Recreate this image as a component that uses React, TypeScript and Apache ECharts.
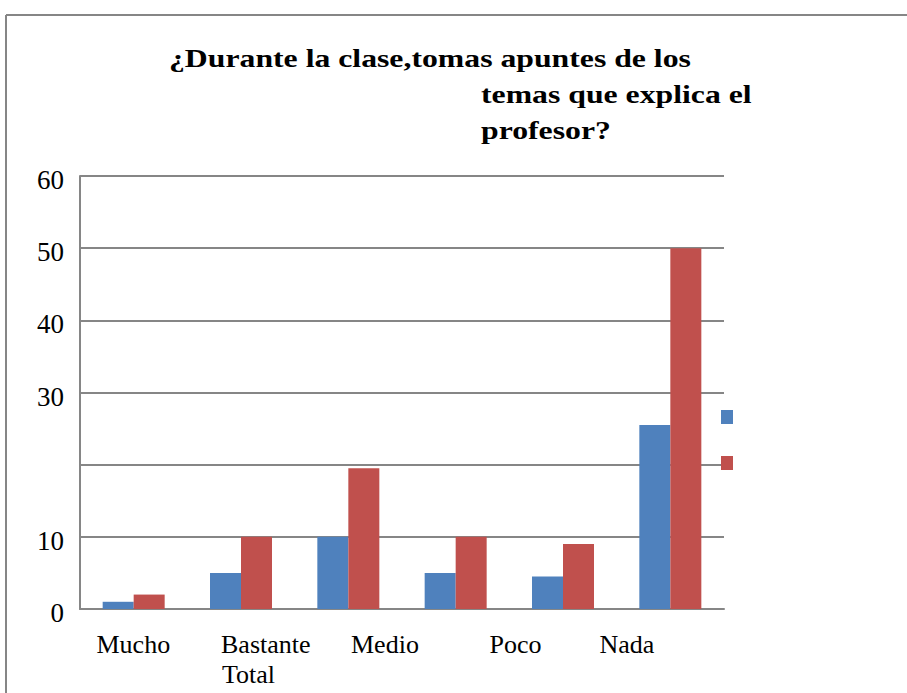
import React, { useEffect, useRef } from "react";
import * as echarts from "echarts";

const categories = ["Mucho", "Bastante", "Medio", "Poco", "Poco2", "Nada"];
const seriesNames = ["Serie 1", "Serie 2"];
const blueValues = [1, 5, 10, 5, 4.5, 25.5];
const redValues = [2, 10, 19.5, 10, 9, 50];
const yTickLabels = ["0", "10", "", "30", "40", "50", "60"];
const xLabelTexts = ["Mucho", "Bastante", "Total", "Medio", "Poco", "Nada"];
const titleLines = [
  "¿Durante la clase,tomas apuntes de los",
  "temas que explica el",
  "profesor?",
];

const SERIF = "Liberation Serif";
const GRAY = "#868686";

export default function App() {
  const ref = useRef<HTMLDivElement>(null);

  useEffect(() => {
    if (!ref.current) return;
    const chart = echarts.init(ref.current, undefined, { renderer: "svg" });

    const titlePos = [
      [169, 59],
      [481, 95],
      [481, 131],
    ];
    const xLabelPos = [
      [96.5, 644],
      [221, 644],
      [222, 674],
      [351, 644],
      [489.5, 644],
      [599.5, 644],
    ];

    const graphics: any[] = [
      {
        type: "line",
        silent: true,
        shape: { x1: 6, y1: 15, x2: 907, y2: 15 },
        style: { stroke: GRAY, lineWidth: 2 },
      },
      {
        type: "line",
        silent: true,
        shape: { x1: 6, y1: 15, x2: 6, y2: 693 },
        style: { stroke: GRAY, lineWidth: 2 },
      },
      ...titleLines.map((t, i) => ({
        type: "text",
        x: titlePos[i][0],
        y: titlePos[i][1],
        scaleX: 1.27,
        style: {
          text: t,
          x: 0,
          y: 0,
          fill: "#000",
          fontFamily: SERIF,
          fontSize: 25,
          fontWeight: "bold",
          align: "left",
          verticalAlign: "middle",
        },
      })),
      ...xLabelTexts.map((t, i) => ({
        type: "text",
        x: xLabelPos[i][0],
        y: xLabelPos[i][1],
        style: {
          text: t,
          x: 0,
          y: 0,
          fill: "#000",
          fontFamily: SERIF,
          fontSize: 26,
          align: "left",
          verticalAlign: "middle",
        },
      })),
    ];

    chart.setOption({
      animation: false,
      backgroundColor: "#fff",
      textStyle: { fontFamily: SERIF },
      grid: { left: 80, right: 183, top: 176, bottom: 84, containLabel: false },
      legend: {
        orient: "vertical",
        left: 721,
        top: 410,
        padding: 0,
        itemWidth: 12,
        itemHeight: 14,
        itemGap: 32,
        icon: "rect",
        formatter: () => "",
        textStyle: { fontSize: 1 },
        selectedMode: false,
        data: seriesNames,
      },
      xAxis: {
        type: "category",
        data: categories,
        axisLine: { show: true, lineStyle: { color: GRAY, width: 2 } },
        axisTick: { show: false },
        axisLabel: { show: false },
        splitLine: { show: false },
      },
      yAxis: {
        type: "value",
        min: 0,
        max: 60,
        interval: 10,
        axisLine: { show: true, lineStyle: { color: GRAY, width: 2 } },
        axisTick: { show: false },
        axisLabel: {
          margin: 16,
          color: "#000",
          fontSize: 27,
          fontFamily: SERIF,
          verticalAlign: "top",
          lineHeight: 8,
          formatter: (_v: number, idx: number) => yTickLabels[idx] ?? "",
        },
        splitLine: { show: true, lineStyle: { color: GRAY, width: 2 } },
      },
      series: [
        {
          name: seriesNames[0],
          type: "bar",
          data: blueValues,
          barWidth: 31,
          barGap: "0%",
          itemStyle: { color: "#4F81BD" },
        },
        {
          name: seriesNames[1],
          type: "bar",
          data: redValues,
          barWidth: 31,
          barGap: "0%",
          itemStyle: { color: "#C0504D" },
        },
      ],
      graphic: graphics,
    });

    return () => chart.dispose();
  }, []);

  return (
    <div
      ref={ref}
      style={{ position: "fixed", left: 0, top: 0, width: 907, height: 693, background: "#fff" }}
    />
  );
}
